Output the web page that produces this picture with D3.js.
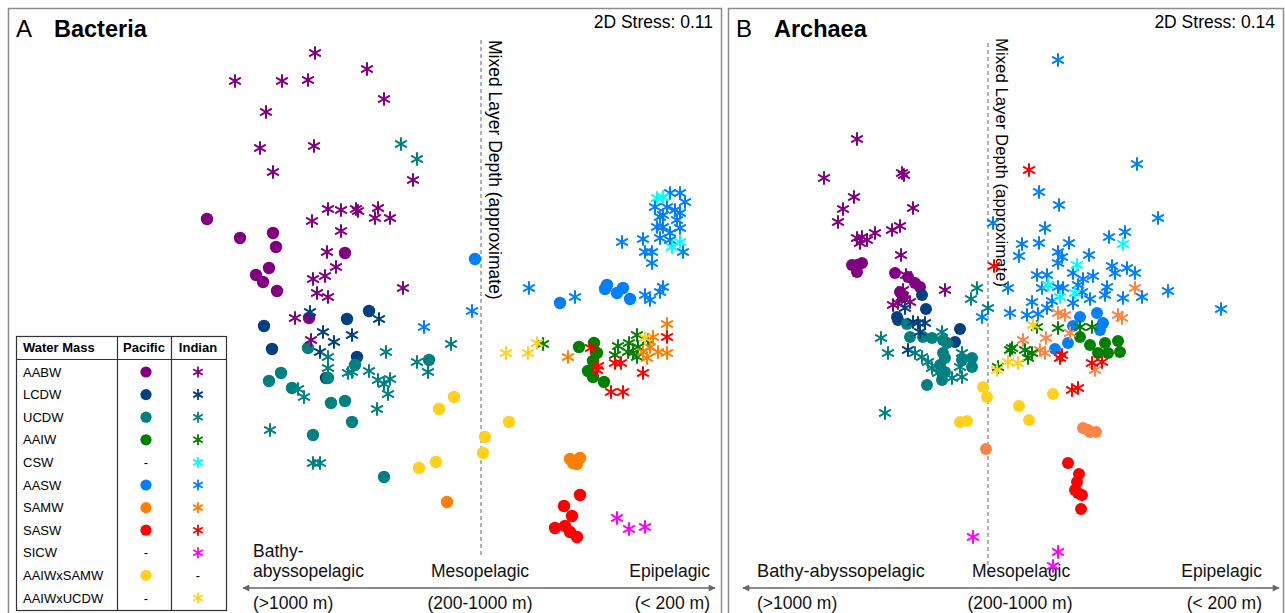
<!DOCTYPE html>
<head>
  <meta charset="utf-8">
  <title>NMDS Bacteria / Archaea</title>
  <script src="https://cdn.jsdelivr.net/npm/d3@7"></script>
  <style>
    body { margin: 0; background: #fff; }
    text { font-family: "Liberation Sans", Arial, Helvetica, sans-serif; }
  </style>
</head>
<body>
<script>
// water masses in legend order
var masses = ["AABW", "LCDW", "UCDW", "AAIW", "CSW", "AASW", "SAMW", "SASW", "SICW", "AAIWxSAMW", "AAIWxUCDW"];
var massColors = ["#800080", "#004080", "#008080", "#008000", "#00ffff", "#0080ff", "#ff8000", "#ff0000", "#ff00ff", "#ffd11c", "#ffd11c"];
var archaeaSamwColor = "#fb8546";   // SAMW looks lighter in panel B
var inPacific = [1, 1, 1, 1, 0, 1, 1, 1, 0, 1, 0];
var inIndian  = [1, 1, 1, 1, 1, 1, 1, 1, 1, 0, 1];

var zoneNames  = ["Bathy-abyssopelagic", "Mesopelagic", "Epipelagic"];
var zoneDepths = ["(>1000 m)", "(200-1000 m)", "(< 200 m)"];

// NMDS coordinates [water mass, NMDS1, NMDS2]
var bacPacific = [
  ["AABW",-2.74,0.81],["AABW",-2.41,0.62],["AABW",-2.08,0.67],["AABW",-2.05,0.53],["AABW",-1.36,0.47],
  ["AABW",-2.12,0.32],["AABW",-2.25,0.25],["AABW",-2.18,0.18],["AABW",-2.04,0.09],["AABW",-1.72,-0.18],
  ["LCDW",-2.17,-0.26],["LCDW",-1.34,-0.19],["LCDW",-1.12,-0.11],["LCDW",-2.09,-0.49],["LCDW",-1.24,-0.57],["LCDW",-1.55,-0.78],
  ["UCDW",-1.73,-0.48],["UCDW",-1.26,-0.65],["UCDW",-1.53,-0.78],["UCDW",-2.00,-0.73],["UCDW",-2.12,-0.81],["UCDW",-1.89,-0.88],
  ["UCDW",-1.50,-1.03],["UCDW",-1.36,-1.01],["UCDW",-1.29,-1.22],["UCDW",-1.68,-1.35],["UCDW",-0.97,-1.77],["UCDW",-0.52,-0.60],
  ["AAIW",0.98,-0.47],["AAIW",1.13,-0.43],["AAIW",1.16,-0.53],["AAIW",1.12,-0.61],["AAIW",1.07,-0.71],["AAIW",1.12,-0.77],["AAIW",1.23,-0.82],
  ["AASW",-0.06,0.41],["AASW",1.26,0.15],["AASW",1.24,0.11],["AASW",1.42,0.12],["AASW",1.36,0.07],["AASW",1.49,0.01],["AASW",0.79,-0.03],
  ["SAMW",-0.34,-2.02],["SAMW",0.89,-1.59],["SAMW",0.99,-1.58],["SAMW",0.96,-1.64],["SAMW",0.92,-1.63],
  ["SASW",0.99,-1.95],["SASW",0.83,-2.06],["SASW",0.91,-2.16],["SASW",0.74,-2.28],["SASW",0.84,-2.26],["SASW",0.89,-2.32],["SASW",0.96,-2.37],
  ["AAIWxSAMW",-0.42,-1.09],["AAIWxSAMW",-0.27,-0.97],["AAIWxSAMW",-0.62,-1.68],["AAIWxSAMW",-0.45,-1.62],
  ["AAIWxSAMW",0.04,-1.37],["AAIWxSAMW",0.02,-1.53],["AAIWxSAMW",0.28,-1.22]
];

var bacIndian = [
  ["AABW",-1.66,2.47],["AABW",-1.14,2.31],["AABW",-2.46,2.19],["AABW",-1.99,2.19],["AABW",-1.73,2.20],["AABW",-0.97,2.01],
  ["AABW",-2.15,1.88],["AABW",-2.21,1.52],["AABW",-1.67,1.54],["AABW",-2.08,1.28],["AABW",-0.68,1.20],
  ["AABW",-1.53,0.91],["AABW",-1.40,0.90],["AABW",-1.25,0.91],["AABW",-1.23,0.89],["AABW",-1.03,0.92],["AABW",-1.06,0.82],
  ["AABW",-0.91,0.82],["AABW",-1.69,0.79],["AABW",-1.40,0.69],["AABW",-1.54,0.48],["AABW",-1.45,0.33],["AABW",-1.56,0.24],
  ["AABW",-1.68,0.21],["AABW",-1.64,0.07],["AABW",-1.53,0.03],["AABW",-0.78,0.12],["AABW",-1.86,-0.18],["AABW",-1.70,-0.40],
  ["LCDW",-1.71,-0.12],["LCDW",-1.02,-0.19],["LCDW",-1.58,-0.32],["LCDW",-1.47,-0.42],["LCDW",-1.29,-0.35],["LCDW",-1.61,-0.52],
  ["UCDW",-0.80,1.56],["UCDW",-0.64,1.41],["UCDW",-1.53,-0.57],["UCDW",-1.53,-0.68],["UCDW",-1.33,-0.73],["UCDW",-1.29,-0.72],
  ["UCDW",-1.12,-0.71],["UCDW",-0.95,-0.52],["UCDW",-1.03,-0.80],["UCDW",-0.97,-0.84],["UCDW",-0.91,-0.79],["UCDW",-0.93,-0.94],
  ["UCDW",-1.83,-0.89],["UCDW",-1.77,-0.97],["UCDW",-1.04,-1.09],["UCDW",-2.11,-1.30],["UCDW",-1.68,-1.63],["UCDW",-1.61,-1.63],
  ["UCDW",-0.30,-0.44],["UCDW",-0.64,-0.62],["UCDW",-0.53,-0.72],
  ["AASW",-0.57,-0.27],["AASW",-0.09,-0.11],["AASW",0.48,0.12],["AASW",0.94,0.03],["AASW",1.41,0.58],["AASW",1.62,0.61],
  ["AASW",1.64,0.48],["AASW",1.71,0.48],["AASW",1.71,0.37],["AASW",1.74,0.93],["AASW",1.79,0.83],["AASW",1.89,1.07],
  ["AASW",1.99,1.07],["AASW",2.04,0.98],["AASW",1.86,0.93],["AASW",1.94,0.90],["AASW",1.99,0.87],["AASW",1.82,0.73],
  ["AASW",1.89,0.67],["AASW",1.99,0.72],["AASW",1.79,0.62],["AASW",1.89,0.60],["AASW",2.02,0.48],["AASW",1.96,0.80],
  ["AASW",1.76,0.73],["AASW",1.82,0.85],["AASW",1.64,0.05],["AASW",1.69,0.00],["AASW",1.79,0.08],["AASW",1.82,0.13],
  ["CSW",1.82,1.03],["CSW",1.76,1.02],["CSW",1.91,0.53],["CSW",1.99,0.58],
  ["AAIW",0.62,-0.44],["AAIW",1.37,-0.46],["AAIW",1.48,-0.43],["AAIW",1.56,-0.35],["AAIW",1.52,-0.53],["AAIW",1.34,-0.55],
  ["AAIW",1.47,-0.52],["AAIW",1.57,-0.47],["AAIW",1.67,-0.40],["AAIW",1.56,-0.57],
  ["SAMW",0.87,-0.57],["SAMW",1.86,-0.24],["SAMW",1.86,-0.53],["SAMW",1.77,-0.52],["SAMW",1.72,-0.37],["SAMW",1.62,-0.52],
  ["SAMW",1.66,-0.58],["SAMW",1.69,-0.47],
  ["SASW",1.10,-0.48],["SASW",1.17,-0.66],["SASW",1.16,-0.70],["SASW",1.34,-0.63],["SASW",1.40,-0.63],["SASW",1.62,-0.73],
  ["SASW",1.30,-0.92],["SASW",1.42,-0.92],["SASW",1.86,-0.37],
  ["SICW",1.36,-2.18],["SICW",1.48,-2.29],["SICW",1.64,-2.27],
  ["AAIWxUCDW",0.25,-0.53],["AAIWxUCDW",0.47,-0.53],["AAIWxUCDW",0.56,-0.43],["AAIWxUCDW",1.64,-0.38]
];

var arcPacific = [
  ["AABW",-1.31,0.35],["AABW",-1.36,0.35],["AABW",-1.26,0.37],["AABW",-1.31,0.28],["AABW",-0.93,0.27],
  ["AABW",-0.80,0.23],["AABW",-0.73,0.17],["AABW",-0.68,0.13],["AABW",-0.88,0.08],["AABW",-0.85,0.03],
  ["LCDW",-0.66,0.05],["LCDW",-0.62,-0.09],["LCDW",-0.91,-0.17],["LCDW",-0.90,-0.20],["LCDW",-0.28,-0.29],["LCDW",-0.33,-0.42],
  ["UCDW",-0.81,-0.24],["UCDW",-0.78,-0.37],["UCDW",-0.65,-0.37],["UCDW",-0.56,-0.38],["UCDW",-0.45,-0.40],["UCDW",-0.41,-0.43],
  ["UCDW",-0.45,-0.53],["UCDW",-0.43,-0.58],["UCDW",-0.48,-0.65],["UCDW",-0.43,-0.72],["UCDW",-0.46,-0.80],["UCDW",-0.61,-0.85],
  ["UCDW",-0.16,-0.58],["UCDW",-0.16,-0.67],["UCDW",-0.26,-0.60],
  ["AAIW",0.92,-0.37],["AAIW",1.02,-0.45],["AAIW",1.17,-0.43],["AAIW",1.10,-0.53],["AAIW",1.20,-0.53],["AAIW",1.30,-0.41],["AAIW",1.32,-0.52],
  ["AASW",0.92,-0.17],["AASW",1.09,-0.13],["AASW",1.15,-0.23],["AASW",1.12,-0.30],["AASW",0.85,-0.26],["AASW",0.67,-0.49],["AASW",0.80,-0.43],
  ["SAMW",-0.02,-1.49],["SAMW",0.95,-1.28],["SAMW",1.02,-1.32],["SAMW",1.08,-1.32],["SAMW",1.00,-1.30],
  ["SASW",0.80,-1.63],["SASW",0.91,-1.74],["SASW",0.89,-1.82],["SASW",0.87,-1.90],["SASW",0.90,-1.93],["SASW",0.94,-1.95],["SASW",0.93,-2.09],
  ["AAIWxSAMW",-0.05,-0.87],["AAIWxSAMW",-0.01,-0.97],["AAIWxSAMW",0.31,-1.06],["AAIWxSAMW",0.65,-0.94],
  ["AAIWxSAMW",0.41,-1.20],["AAIWxSAMW",-0.28,-1.22],["AAIWxSAMW",-0.21,-1.21]
];

var arcIndian = [
  ["AABW",-1.31,1.61],["AABW",-1.64,1.22],["AABW",-0.86,1.27],["AABW",-0.84,1.25],["AABW",-1.34,1.03],["AABW",-1.45,0.91],
  ["AABW",-1.50,0.78],["AABW",-0.75,0.92],["AABW",-0.88,0.74],["AABW",-0.96,0.70],["AABW",-1.13,0.67],["AABW",-1.31,0.62],
  ["AABW",-1.26,0.63],["AABW",-1.21,0.60],["AABW",-1.28,0.57],["AABW",-0.87,0.45],["AABW",-0.82,0.25],["AABW",-0.43,0.10],
  ["AABW",-0.85,0.10],["AABW",-0.86,0.03],["AABW",-0.90,-0.03],["AABW",-0.95,-0.05],["AABW",-0.78,-0.02],
  ["LCDW",-0.83,-0.08],["LCDW",-0.75,-0.22],["LCDW",-0.70,-0.23],["LCDW",-0.63,-0.23],["LCDW",-0.68,-0.32],["LCDW",-0.80,-0.50],
  ["UCDW",-1.07,-0.38],["UCDW",-1.00,-0.53],["UCDW",-0.46,-0.32],["UCDW",-0.73,-0.53],["UCDW",-0.66,-0.57],["UCDW",-0.60,-0.62],
  ["UCDW",-0.56,-0.68],["UCDW",-0.50,-0.73],["UCDW",-0.36,-0.78],["UCDW",-0.26,-0.77],["UCDW",-0.28,-0.67],["UCDW",-0.26,-0.53],
  ["UCDW",-1.03,-1.13],["UCDW",-0.11,0.12],["UCDW",-0.17,0.01],["UCDW",0.00,-0.08],
  ["AASW",0.70,2.40],["AASW",1.49,1.36],["AASW",0.51,1.08],["AASW",0.71,0.95],["AASW",1.70,0.82],["AASW",0.05,0.77],
  ["AASW",0.57,0.72],["AASW",0.34,0.56],["AASW",0.31,0.44],["AASW",0.51,0.57],["AASW",0.81,0.57],["AASW",0.70,0.48],
  ["AASW",0.74,0.43],["AASW",0.70,0.37],["AASW",1.01,0.45],["AASW",1.21,0.63],["AASW",1.37,0.68],["AASW",1.24,0.34],
  ["AASW",1.39,0.32],["AASW",1.47,0.27],["AASW",1.27,0.27],["AASW",0.49,0.25],["AASW",0.59,0.25],["AASW",0.54,0.12],
  ["AASW",0.85,0.27],["AASW",0.95,0.21],["AASW",1.05,0.24],["AASW",0.20,0.12],["AASW",0.70,0.13],["AASW",0.75,0.12],
  ["AASW",0.90,0.15],["AASW",0.94,0.08],["AASW",1.19,0.13],["AASW",1.17,0.05],["AASW",1.02,0.01],["AASW",1.35,0.02],
  ["AASW",1.54,0.03],["AASW",1.80,0.09],["AASW",2.33,-0.09],["AASW",0.44,-0.02],["AASW",0.64,-0.01],["AASW",0.85,-0.03],
  ["AASW",0.59,-0.08],["AASW",0.22,-0.13],["AASW",0.39,-0.15],["AASW",0.50,-0.14],["AASW",-0.06,-0.17],
  ["CSW",1.35,0.56],["CSW",0.89,0.35],["CSW",0.60,0.15],["CSW",0.72,0.03],["CSW",0.87,0.07],
  ["SAMW",1.47,0.12],["SAMW",0.70,-0.13],["SAMW",0.77,-0.15],["SAMW",1.30,-0.15],["SAMW",1.34,-0.18],["SAMW",0.58,-0.38],
  ["SAMW",0.82,-0.33],["SAMW",0.35,-0.40],["SAMW",0.52,-0.50],["SAMW",0.57,-0.53],["SAMW",1.07,-0.70],
  ["AAIW",0.10,-0.67],["AAIW",0.22,-0.50],["AAIW",0.49,-0.27],["AAIW",0.70,-0.28],["AAIW",0.92,-0.27],["AAIW",1.04,-0.27],
  ["AAIW",0.24,-0.48],["AAIW",0.37,-0.50],["AAIW",0.44,-0.53],["AAIW",0.40,-0.58],
  ["SASW",0.41,1.30],["SASW",0.06,0.34],["SASW",0.74,-0.55],["SASW",0.72,-0.58],["SASW",1.04,-0.63],["SASW",1.14,-0.62],
  ["SASW",0.84,-0.90],["SASW",0.90,-0.88],
  ["SICW",-0.15,-2.37],["SICW",0.70,-2.52],["SICW",0.65,-2.66],
  ["AAIWxUCDW",0.45,-0.25],["AAIWxUCDW",0.20,-0.62],["AAIWxUCDW",0.30,-0.63],["AAIWxUCDW",0.09,-0.70]
];

var W = 1285, H = 613;
var svg = d3.select("body").append("svg").attr("width", W).attr("height", H);

var color = d3.scaleOrdinal().domain(masses).range(massColors);
var colorB = d3.scaleOrdinal().domain(masses)
  .range(massColors.map(function (c, i) { return masses[i] === "SAMW" ? archaeaSamwColor : c; }));
var y = d3.scaleLinear().domain([2.92, -3.13]).range([8, 613]);

function star(s) {
  var c = s * 0.866;
  return "M0," + (-s) + "V" + s +
         "M" + (-c) + "," + (-s / 2) + "L" + c + "," + (s / 2) +
         "M" + (-c) + "," + (s / 2) + "L" + c + "," + (-s / 2);
}

var defs = svg.append("defs");
defs.append("marker").attr("id", "arrow").attr("viewBox", "0 0 10 10")
    .attr("refX", 9).attr("refY", 5).attr("markerWidth", 9).attr("markerHeight", 7)
    .attr("markerUnits", "userSpaceOnUse").attr("orient", "auto-start-reverse")
  .append("path").attr("d", "M0,0L10,5L0,10Z").attr("fill", "#666");

function panel(p) {
  var x = d3.scaleLinear().domain(p.domain).range([p.left, p.right]);
  var g = svg.append("g");

  // frame
  g.append("rect").attr("x", p.left + 0.5).attr("y", 8.5)
    .attr("width", p.right - p.left - 1).attr("height", H)
    .attr("fill", "none").attr("stroke", "#8c8c8c").attr("stroke-width", 1.5);

  // titles
  g.append("text").attr("x", p.left + 8).attr("y", 37).attr("font-size", 24).text(p.letter);
  g.append("text").attr("x", p.left + 46).attr("y", 37).attr("font-size", 23.5)
    .attr("font-weight", "bold").text(p.name);
  g.append("text").attr("x", p.right - 9).attr("y", 28).attr("font-size", 17.5)
    .attr("text-anchor", "end").text("2D Stress: " + p.stress);

  // mixed layer depth line
  g.append("line").attr("x1", x(0)).attr("x2", x(0))
    .attr("y1", y(p.lineTop)).attr("y2", y(p.lineBottom))
    .attr("stroke", "#666").attr("stroke-width", 1).attr("stroke-dasharray", "4,3");
  g.append("text").attr("transform", "translate(" + (x(0) + 8) + "," + p.labelTop + ") rotate(90)")
    .attr("font-size", p.labelSize).text("Mixed Layer Depth (approximate)");

  // depth axis
  g.append("line").attr("x1", p.arrow[0]).attr("x2", p.arrow[1]).attr("y1", 588).attr("y2", 588)
    .attr("stroke", "#666").attr("stroke-width", 1.5)
    .attr("marker-start", "url(#arrow)").attr("marker-end", "url(#arrow)");
  var zt = g.append("g").attr("font-size", 17.5).attr("fill", "#111");
  if (p.split) {
    zt.append("text").attr("x", p.zone[0]).attr("y", 557).text("Bathy-");
    zt.append("text").attr("x", p.zone[0]).attr("y", 577).text("abyssopelagic");
  } else {
    zt.append("text").attr("x", p.zone[0]).attr("y", 577).attr("font-size", 18.2).text(zoneNames[0]);
  }
  zt.append("text").attr("x", p.zone[1]).attr("y", 577).attr("text-anchor", p.midAnchor).text(zoneNames[1]);
  zt.append("text").attr("x", p.zone[2]).attr("y", 577).attr("text-anchor", "end").text(zoneNames[2]);
  zt.append("text").attr("x", p.zone[0]).attr("y", 609).text(zoneDepths[0]);
  zt.append("text").attr("x", p.depthMid).attr("y", 609).attr("text-anchor", "middle").text(zoneDepths[1]);
  zt.append("text").attr("x", p.zone[2]).attr("y", 609).attr("text-anchor", "end").text(zoneDepths[2]);

  // points
  g.append("g").selectAll("circle").data(p.pacific).enter().append("circle")
    .attr("cx", function (d) { return x(d[1]); })
    .attr("cy", function (d) { return y(d[2]); })
    .attr("r", p.r)
    .attr("fill", function (d) { return p.color(d[0]); });

  g.append("g").selectAll("path").data(p.indian).enter().append("path")
    .attr("transform", function (d) { return "translate(" + x(d[1]) + "," + y(d[2]) + ")"; })
    .attr("d", star(p.s))
    .attr("fill", "none").attr("stroke-width", 2)
    .attr("stroke", function (d) { return p.color(d[0]); });
}

panel({ left: 8, right: 722, domain: [-4.73, 2.41], letter: "A", name: "Bacteria", stress: "0.11",
        lineTop: 2.60, lineBottom: -2.55, labelTop: 40, labelSize: 17.5,
        arrow: [243, 715], zone: [253, 480, 710], midAnchor: "middle", depthMid: 480, split: true,
        pacific: bacPacific, indian: bacIndian, r: 6.2, s: 6.8, color: color });

panel({ left: 728, right: 1284, domain: [-2.60, 2.96], letter: "B", name: "Archaea", stress: "0.14",
        lineTop: 2.57, lineBottom: -2.68, labelTop: 38, labelSize: 16.8,
        arrow: [743, 1279], zone: [757, 972, 1262], midAnchor: "start", depthMid: 1020, split: false,
        pacific: arcPacific, indian: arcIndian, r: 6, s: 6.8, color: colorB });

// legend table
var lg = svg.append("g").attr("font-size", 13);
var tl = 16.5, tr = 226.5, tt = 336.5, tb = 610.5, hb = 359.5, c1 = 117.5, c2 = 171.5;
lg.append("rect").attr("x", tl).attr("y", tt).attr("width", tr - tl).attr("height", tb - tt)
  .attr("fill", "#fff").attr("stroke", "#333").attr("stroke-width", 1.2);
lg.append("line").attr("x1", tl).attr("x2", tr).attr("y1", hb).attr("y2", hb).attr("stroke", "#333").attr("stroke-width", 1.2);
[c1, c2].forEach(function (cx) {
  lg.append("line").attr("x1", cx).attr("x2", cx).attr("y1", tt).attr("y2", tb).attr("stroke", "#333").attr("stroke-width", 1.2);
});
lg.append("text").attr("x", 23).attr("y", 352).attr("font-weight", "bold").text("Water Mass");
lg.append("text").attr("x", 144).attr("y", 352).attr("font-weight", "bold").attr("text-anchor", "middle").text("Pacific");
lg.append("text").attr("x", 198).attr("y", 352).attr("font-weight", "bold").attr("text-anchor", "middle").text("Indian");

var row = d3.scaleLinear().domain([0, masses.length - 1]).range([372, 598]);
masses.forEach(function (m, i) {
  var cy = row(i);
  lg.append("text").attr("x", 23).attr("y", cy + 4.5).text(m);
  if (inPacific[i]) {
    lg.append("circle").attr("cx", 146).attr("cy", cy).attr("r", 5.6).attr("fill", massColors[i]);
  } else {
    lg.append("text").attr("x", 146).attr("y", cy + 4.5).attr("text-anchor", "middle").text("-");
  }
  if (inIndian[i]) {
    lg.append("path").attr("transform", "translate(198," + cy + ")").attr("d", star(5.5))
      .attr("fill", "none").attr("stroke", massColors[i]).attr("stroke-width", 1.8);
  } else {
    lg.append("text").attr("x", 198).attr("y", cy + 4.5).attr("text-anchor", "middle").text("-");
  }
});
</script>
</body>
